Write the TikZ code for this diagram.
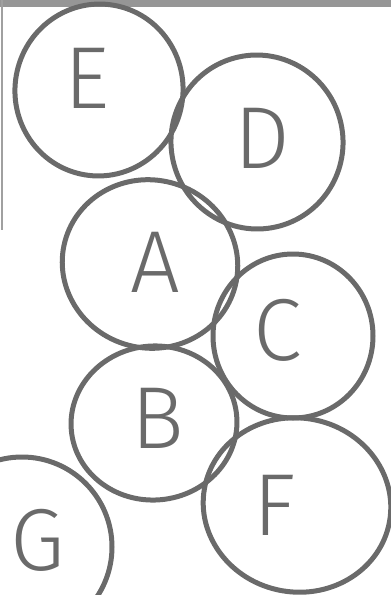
\documentclass[tikz,border=0pt]{standalone}
\usepackage{fontspec}
\setmainfont{Fira Sans Light}
\begin{document}
\begin{tikzpicture}[x=1pt,y=-1pt,
  ring/.style={draw=inkgray,line width=5pt},
  letter/.style={text=inkgray,font=\fontsize{88}{88}\selectfont,inner sep=0pt}]
\definecolor{inkgray}{HTML}{6A6A6A}
\useasboundingbox (0,0) rectangle (391,595);
\fill[fill={rgb,255:red,150;green,150;blue,150}] (0,0) rectangle (391,7);
\draw[draw={rgb,255:red,160;green,160;blue,160},line width=1.5pt] (2,0) -- (2,230);
\begin{scope}
\clip (0,0) rectangle (391,595);
\draw[ring,rotate around={-10:(99,90)}] (99,90) ellipse [x radius=84,y radius=86];
\draw[ring,rotate around={10:(257,142)}] (257,142) ellipse [x radius=86,y radius=87];
\draw[ring,rotate around={-15:(150,264)}] (150,264) ellipse [x radius=88,y radius=84];
\draw[ring] (293,336) ellipse [x radius=80,y radius=82];
\draw[ring,rotate around={5:(154,423)}] (154,423) ellipse [x radius=83,y radius=77];
\draw[ring,rotate around={-10:(297,505)}] (297,505) ellipse [x radius=94,y radius=87];
\draw[ring] (22,547) circle [radius=90];
\end{scope}
\node[letter] (E) at (87,78) {E};
\node[letter] (D) at (262,138) {D};
\node[letter] (A) at (155,262) {A};
\node[letter] (C) at (278,330) {C};
\node[letter] (B) at (158,418) {B};
\node[letter] (F) at (275,505) {F};
\node[letter] (G) at (38,540) {G};
\end{tikzpicture}
\end{document}
